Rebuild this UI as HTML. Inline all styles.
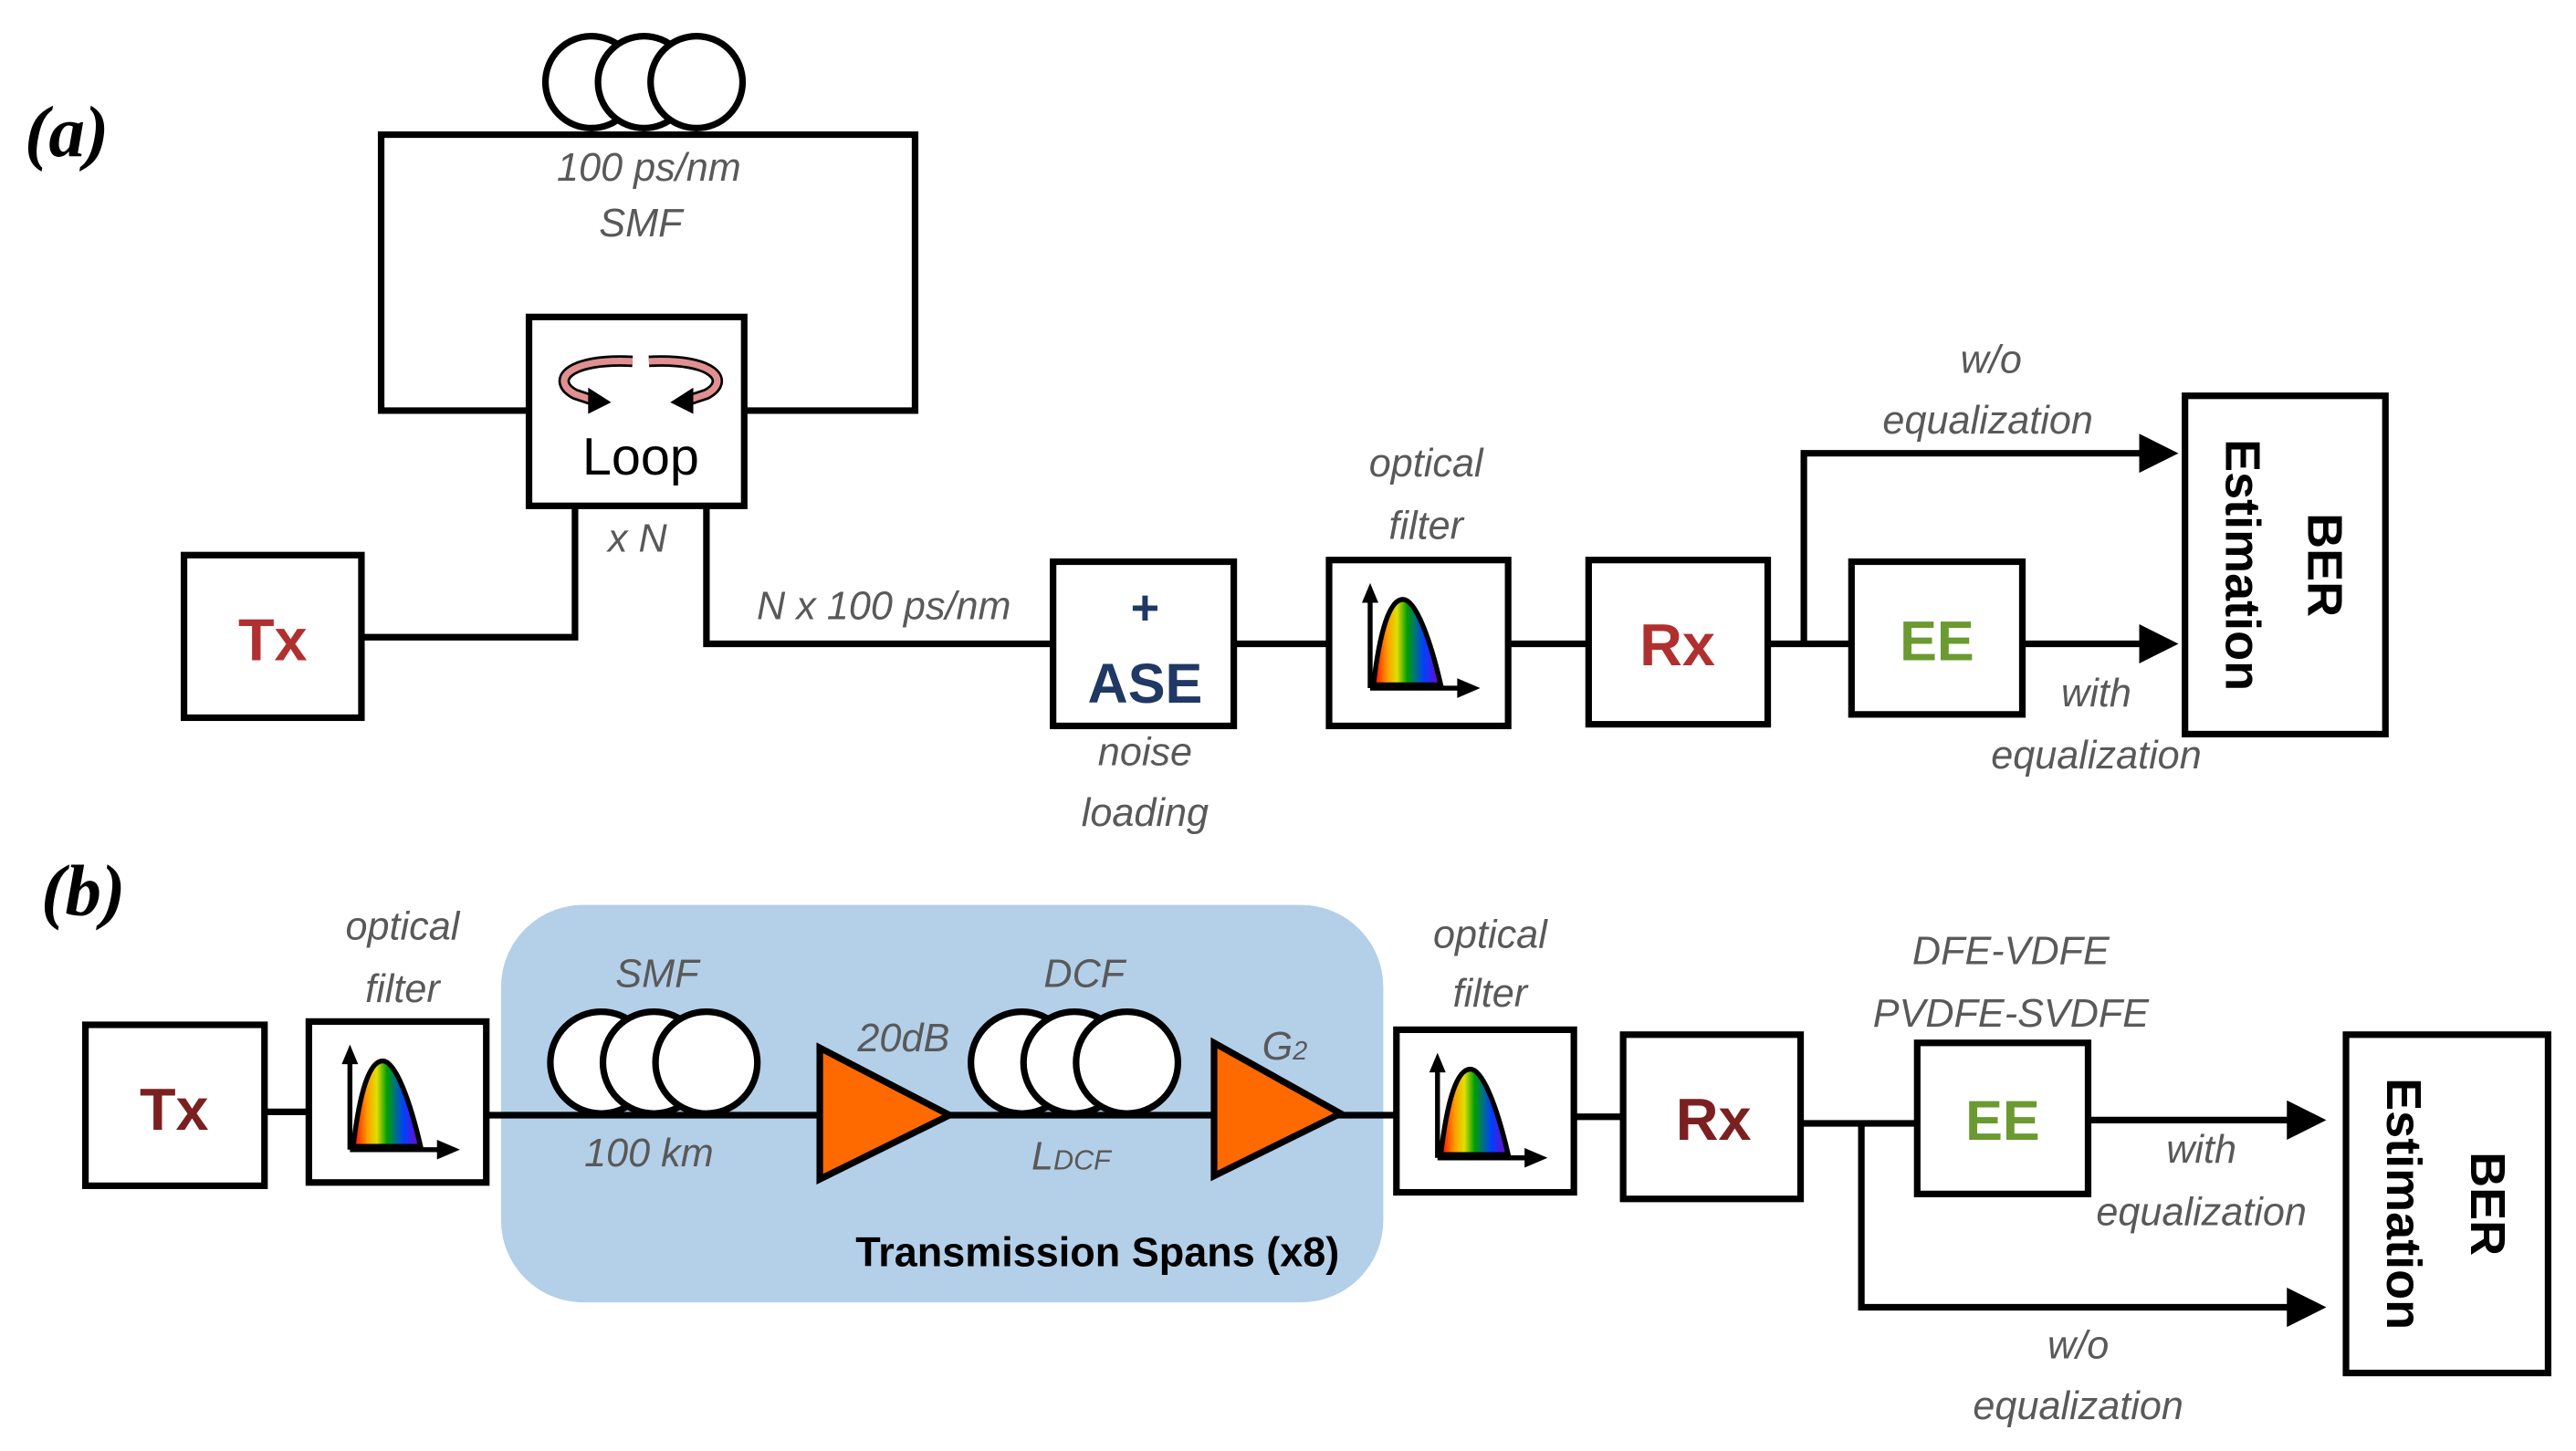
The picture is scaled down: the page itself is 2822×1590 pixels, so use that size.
<!DOCTYPE html>
<html><head><meta charset="utf-8"><style>
html,body{margin:0;padding:0;background:#fff;}
svg{display:block;}
.g{font-family:"Liberation Sans",sans-serif;font-style:italic;fill:#595959;font-size:24px;text-anchor:middle;}
.b{fill:#fff;stroke:#000;stroke-width:4;}
.l{fill:none;stroke:#000;stroke-width:4;}
.t{font-family:"Liberation Sans",sans-serif;font-weight:bold;text-anchor:middle;}
</style></head><body>
<svg width="2822" height="1590" viewBox="0 0 1568 883.5" preserveAspectRatio="none" xmlns="http://www.w3.org/2000/svg">
<defs>
<linearGradient id="rb" x1="0" x2="1" y1="0" y2="0">
<stop offset="0" stop-color="#ff0000"/><stop offset="0.2" stop-color="#ff9900"/><stop offset="0.35" stop-color="#e0e000"/><stop offset="0.5" stop-color="#00a000"/><stop offset="0.75" stop-color="#0040ff"/><stop offset="1" stop-color="#8000c0"/>
</linearGradient>
<marker id="ar" markerWidth="6" markerHeight="6" refX="5" refY="3" orient="auto" markerUnits="strokeWidth"><path d="M0,0 L6,3 L0,6 z" fill="#000"/></marker>
<g id="flt">
<path d="M27,76 C31,42 37,24 45,24 C53,24 62,50 68,76 Z" fill="url(#rb)" stroke="#000" stroke-width="3"/>
<line x1="25" y1="78" x2="25" y2="24" stroke="#000" stroke-width="3"/>
<path d="M25,14 L20,26 L30,26 Z" fill="#000"/>
<line x1="25" y1="78" x2="80" y2="78" stroke="#000" stroke-width="3"/>
<path d="M92,78 L78,72 L78,84 Z" fill="#000"/>
</g>
</defs>

<!-- (a) -->
<text x="15" y="95" font-family="Liberation Serif,serif" font-style="italic" font-weight="bold" font-size="44">(a)</text>
<polyline class="l" points="322,250 232,250 232,82 557,82 557,250 453,250"/>
<ellipse class="b" cx="360" cy="50" rx="28" ry="28"/>
<ellipse class="b" cx="392" cy="50" rx="28" ry="28"/>
<ellipse class="b" cx="424" cy="50" rx="28" ry="28"/>
<text class="g" x="395" y="110">100 ps/nm</text>
<text class="g" x="390" y="144">SMF</text>
<rect class="b" x="322" y="193" width="131" height="115"/>
<path d="M385,220 C345,218 335,232 350,240 L362,244" fill="none" stroke="#000" stroke-width="7"/>
<path d="M385,220 C345,218 335,232 350,240 L362,244" fill="none" stroke="#e09090" stroke-width="4"/>
<path d="M358,236 L372,245 L358,252 Z" fill="#000"/>
<path d="M395,220 C435,218 445,232 430,240 L418,244" fill="none" stroke="#000" stroke-width="7"/>
<path d="M395,220 C435,218 445,232 430,240 L418,244" fill="none" stroke="#e09090" stroke-width="4"/>
<path d="M422,236 L408,245 L422,252 Z" fill="#000"/>
<text x="390" y="289" font-family="Liberation Sans,sans-serif" font-size="32" text-anchor="middle">Loop</text>
<polyline class="l" points="350,308 350,388 219,388"/>
<text class="g" x="388" y="336">x N</text>
<polyline class="l" points="430,308 430,392 641,392"/>
<text class="g" x="538" y="377">N x 100 ps/nm</text>
<rect class="b" x="112" y="338" width="108" height="99"/>
<text class="t" x="166" y="402" font-size="36" fill="#b03030">Tx</text>
<rect class="b" x="641" y="342" width="110" height="100"/>
<text class="t" x="697" y="380" font-size="30" fill="#1f3864">+</text>
<text class="t" x="697" y="428" font-size="34" fill="#1f3864">ASE</text>
<text class="g" x="697" y="466">noise</text>
<text class="g" x="697" y="503">loading</text>
<line class="l" x1="751" y1="392" x2="809" y2="392"/>
<rect class="b" x="809" y="341" width="109" height="101"/>
<use href="#flt" x="809" y="341"/>
<text class="g" x="868" y="290">optical</text>
<text class="g" x="868" y="328">filter</text>
<line class="l" x1="918" y1="392" x2="967" y2="392"/>
<rect class="b" x="967" y="341" width="109" height="100"/>
<text class="t" x="1021" y="405" font-size="36" fill="#b03030">Rx</text>
<line class="l" x1="1076" y1="392" x2="1127" y2="392"/>
<polyline class="l" points="1098,392 1098,276 1322,276" marker-end="url(#ar)"/>
<rect class="b" x="1127" y="342" width="104" height="93"/>
<text class="t" x="1179" y="402" font-size="34" fill="#6a9a30">EE</text>
<line class="l" x1="1231" y1="392" x2="1322" y2="392" marker-end="url(#ar)"/>
<rect class="b" x="1330" y="241" width="122" height="206"/>
<text class="t" font-size="30" transform="translate(1405,344) rotate(90)">BER</text>
<text class="t" font-size="30" transform="translate(1355,344) rotate(90)">Estimation</text>
<text class="g" x="1212" y="227">w/o</text>
<text class="g" x="1210" y="264">equalization</text>
<text class="g" x="1276" y="430">with</text>
<text class="g" x="1276" y="468">equalization</text>

<!-- (b) -->
<text x="25" y="557" font-family="Liberation Serif,serif" font-style="italic" font-weight="bold" font-size="44">(b)</text>
<rect x="305" y="551" width="537" height="242" rx="50" ry="50" fill="#b4cfe8"/>
<line class="l" x1="296" y1="679" x2="850" y2="679"/>
<rect class="b" x="52" y="624" width="109" height="98"/>
<text class="t" x="106" y="688" font-size="36" fill="#7b2020">Tx</text>
<line class="l" x1="161" y1="677" x2="188" y2="677"/>
<rect class="b" x="188" y="622" width="108" height="98"/>
<use href="#flt" x="188" y="622"/>
<text class="g" x="245" y="572">optical</text>
<text class="g" x="245" y="610">filter</text>
<ellipse class="b" cx="366" cy="647" rx="31" ry="31"/>
<ellipse class="b" cx="398" cy="647" rx="31" ry="31"/>
<ellipse class="b" cx="430" cy="647" rx="31" ry="31"/>
<text class="g" x="400" y="601">SMF</text>
<text class="g" x="395" y="710">100 km</text>
<path d="M499,638 L578,679 L499,718 Z" fill="#ff6a00" stroke="#000" stroke-width="4"/>
<text class="g" x="550" y="640">20dB</text>
<ellipse class="b" cx="622" cy="647" rx="31" ry="31"/>
<ellipse class="b" cx="654" cy="647" rx="31" ry="31"/>
<ellipse class="b" cx="686" cy="647" rx="31" ry="31"/>
<text class="g" x="660" y="601">DCF</text>
<text class="g" x="652" y="712">L<tspan font-size="17">DCF</tspan></text>
<path d="M739,635 L816,678 L739,716 Z" fill="#ff6a00" stroke="#000" stroke-width="4"/>
<text class="g" x="782" y="645">G<tspan font-size="16">2</tspan></text>
<text class="t" x="668" y="771" font-size="25">Transmission Spans (x8)</text>
<rect class="b" x="850" y="627" width="108" height="99"/>
<use href="#flt" x="850" y="627"/>
<text class="g" x="907" y="577">optical</text>
<text class="g" x="907" y="613">filter</text>
<line class="l" x1="958" y1="680" x2="988" y2="680"/>
<rect class="b" x="988" y="630" width="108" height="100"/>
<text class="t" x="1043" y="694" font-size="36" fill="#7b2020">Rx</text>
<line class="l" x1="1096" y1="684" x2="1167" y2="684"/>
<polyline class="l" points="1133,684 1133,796 1412,796" marker-end="url(#ar)"/>
<rect class="b" x="1167" y="635" width="104" height="92"/>
<text class="t" x="1219" y="694" font-size="34" fill="#6a9a30">EE</text>
<line class="l" x1="1271" y1="682" x2="1412" y2="682" marker-end="url(#ar)"/>
<rect class="b" x="1428" y="630" width="123" height="206"/>
<text class="t" font-size="30" transform="translate(1504,733) rotate(90)">BER</text>
<text class="t" font-size="30" transform="translate(1453,733) rotate(90)">Estimation</text>
<text class="g" x="1224" y="587">DFE-VDFE</text>
<text class="g" x="1224" y="625">PVDFE-SVDFE</text>
<text class="g" x="1340" y="708">with</text>
<text class="g" x="1340" y="746">equalization</text>
<text class="g" x="1265" y="827">w/o</text>
<text class="g" x="1265" y="864">equalization</text>
</svg>
</body></html>
